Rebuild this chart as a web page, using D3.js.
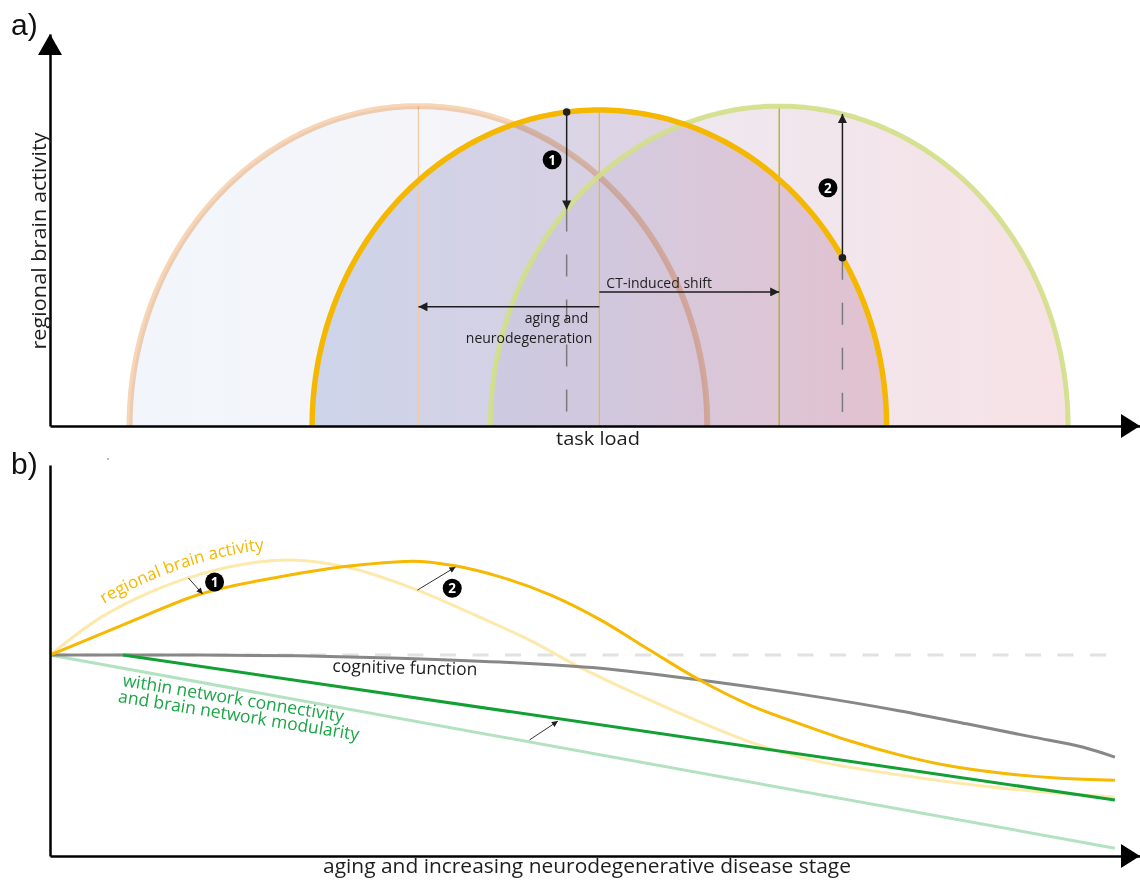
<!DOCTYPE html>
<html>
<head>
<meta charset="utf-8">
<script src="https://cdn.jsdelivr.net/npm/d3@7"></script>
<style>
  html, body { margin: 0; padding: 0; background: #fff; }
  svg { display: block; font-family: "Open Sans", "Noto Sans", sans-serif; }
</style>
</head>
<body>
<svg id="chart" width="1140" height="881"></svg>
<script>
// ---------------- data ----------------
// Panel a: activity as a function of task load (three semi-elliptic curves)
const loadCurves   = ["aging and neurodegeneration", "current state", "after cognitive training"];
const peakLoad     = [33.8, 50.4, 66.9];   // task load at which each curve peaks
const halfSpan     = [26.5, 26.35, 26.5];  // half width of each curve in task-load units
const peakActivity = [81.6, 80.6, 81.6];   // maximal regional activity
const probeLoad    = [47.4, 72.7];         // task loads of the markers 1 and 2
const shiftLevels  = [30.4, 34.2];         // activity level of the aging / CT shift arrows
const shiftLabels  = ["aging and", "neurodegeneration", "CT-induced shift"];

// Panel b: trajectories over disease stage (stage, value)
const activityNoCT = [[0,51.4],[4.6,60.9],[9.2,67.5],[13.8,72.1],[18.3,74.9],[22.0,75.7],
  [27.2,73.9],[33.7,68.0],[39.4,61.1],[44.0,55.2],[48.6,48.3],[55.0,39.9],[59.6,34.3],[64.2,29.2],
  [68.8,25.3],[78.0,20.7],[87.2,17.4],[94.8,15.6],[97.7,15.1]];
const activityCT = [[0,51.4],[7.3,59.8],[13.8,67.0],[21.1,71.4],[29.0,74.6],[33.3,75.4],
  [37.0,74.3],[41.3,71.4],[45.9,66.8],[50.5,60.4],[55.0,52.7],[59.6,45.0],[64.2,38.6],[68.8,33.8],
  [73.4,29.4],[78.0,25.8],[82.6,23.0],[87.2,21.2],[92.7,19.9],[97.7,19.4]];
const cognition = [[0,51.4],[13.8,51.4],[22.9,51.2],[32.1,50.6],[41.3,49.6],[50.5,48.0],
  [59.6,45.0],[68.8,41.4],[78.0,37.1],[84.1,33.8],[90.2,30.4],[94.8,27.8],[97.7,25.3]];
const connectivityNoCT = [[0,51.4],[97.7,2.0]];
const connectivityCT   = [[6.7,51.4],[97.7,14.3]];
const baselineLevel = 51.4;
const stageEnd = 97.7;
// small arrows (from -> to) showing the CT effect in panel b
const effectArrows = [[[12.7,71.1],[14.0,67.0]], [[33.7,68.0],[37.2,73.9]], [[44.0,29.7],[46.6,34.5]]];
const effectBadges = [["1",[15.1,70.1]], ["2",[36.9,68.5]]];

// ---------------- layout ----------------
const svg = d3.select("#chart");
const xA = d3.scaleLinear().domain([0, 100]).range([50, 1140]);
const yA = d3.scaleLinear().domain([0, 100]).range([426, 34]);
const xB = d3.scaleLinear().domain([0, 100]).range([50, 1140]);
const yB = d3.scaleLinear().domain([0, 100]).range([856, 465]);

const ink = "#1e1e1e";
const curveStroke = ["#f8d5b5", "#f5b800", "#d2df86"];
const curveFillOpacity = [0.15, 0.58, 0.3];
const curveWidth = [6, 5.5, 5];

const defs = svg.append("defs");
const grad = defs.append("linearGradient")
  .attr("id", "loadGrad").attr("gradientUnits", "userSpaceOnUse")
  .attr("x1", xA(peakLoad[0] - halfSpan[0])).attr("x2", xA(peakLoad[2] + halfSpan[2]))
  .attr("y1", 0).attr("y2", 0);
grad.append("stop").attr("offset", 0).attr("stop-color", "#a6c0e4");
grad.append("stop").attr("offset", 0.5).attr("stop-color", "#c2b6d3");
grad.append("stop").attr("offset", 1).attr("stop-color", "#e39fad");

function addMarker(id, w, h) {
  defs.append("marker").attr("id", id)
    .attr("viewBox", "0 0 10 10").attr("refX", 10).attr("refY", 5)
    .attr("markerWidth", w).attr("markerHeight", h)
    .attr("markerUnits", "userSpaceOnUse").attr("orient", "auto")
    .append("path").attr("d", "M0,0L10,5L0,10Z").attr("fill", ink);
}
addMarker("headA", 10, 9);
addMarker("headB", 8, 6);

// activity of curve i at a given task load
function activityAt(i, load) {
  const u = (load - peakLoad[i]) / halfSpan[i];
  return peakActivity[i] * Math.sqrt(Math.max(0, 1 - u * u));
}
function arcPoints(i) {
  return d3.range(0, 181).map(k => {
    const t = k * Math.PI / 180;
    return [peakLoad[i] - halfSpan[i] * Math.cos(t), peakActivity[i] * Math.sin(t)];
  });
}
const lineA = d3.line().x(d => xA(d[0])).y(d => yA(d[1]));

// ---------------- panel a ----------------
const gA = svg.append("g");

loadCurves.forEach((name, i) => {
  gA.append("path").attr("d", lineA(arcPoints(i)) + "Z")
    .attr("fill", "url(#loadGrad)").attr("fill-opacity", curveFillOpacity[i]);
});

// vertical lines through the peaks
const peakLineColour = ["#edcaa8", "#e5b55a", "#a7af27"];
loadCurves.forEach((name, i) => {
  gA.append("line")
    .attr("x1", xA(peakLoad[i])).attr("x2", xA(peakLoad[i]))
    .attr("y1", yA(peakActivity[i])).attr("y2", yA(0))
    .attr("stroke", peakLineColour[i]).attr("stroke-width", 1.3);
});

// curve outlines (gold drawn last)
gA.append("path").attr("d", lineA(arcPoints(0)))
  .attr("fill", "none").attr("stroke", curveStroke[0]).attr("stroke-width", curveWidth[0])
  .style("mix-blend-mode", "multiply");
gA.append("path").attr("d", lineA(arcPoints(2)))
  .attr("fill", "none").attr("stroke", curveStroke[2]).attr("stroke-width", curveWidth[2])
  .attr("stroke-opacity", 0.9);
gA.append("path").attr("d", lineA(arcPoints(1)))
  .attr("fill", "none").attr("stroke", curveStroke[1]).attr("stroke-width", curveWidth[1]);

// dashed drop lines below the markers
const dropStart = [activityAt(2, probeLoad[0]), activityAt(1, probeLoad[1])];
probeLoad.forEach((load, k) => {
  gA.append("line")
    .attr("x1", xA(load)).attr("x2", xA(load))
    .attr("y1", yA(dropStart[k])).attr("y2", yA(3.6))
    .attr("stroke", "#7a7a7a").attr("stroke-width", 1.5)
    .attr("stroke-dasharray", "22,23");
});

// marker arrows: 1 from gold to green (down), 2 from gold to green (up)
probeLoad.forEach((load, k) => {
  const from = activityAt(1, load), to = activityAt(2, load);
  gA.append("line")
    .attr("x1", xA(load)).attr("x2", xA(load))
    .attr("y1", yA(from)).attr("y2", yA(to))
    .attr("stroke", ink).attr("stroke-width", 1.5)
    .attr("marker-end", "url(#headA)");
  gA.append("circle").attr("cx", xA(load)).attr("cy", yA(from)).attr("r", 3.8).attr("fill", ink);
});

function badge(g, label, cx, cy) {
  g.append("circle").attr("cx", cx).attr("cy", cy).attr("r", 9.5).attr("fill", "#000");
  g.append("text").attr("x", cx).attr("y", cy + 4.8)
    .attr("text-anchor", "middle").attr("fill", "#fff")
    .attr("font-size", 13.5).attr("font-weight", 700).text(label);
}
badge(gA, "1", xA(probeLoad[0]) - 14.5, yA((activityAt(1, probeLoad[0]) + activityAt(2, probeLoad[0])) / 2) - 1);
badge(gA, "2", xA(probeLoad[1]) - 14.5, yA((activityAt(1, probeLoad[1]) + activityAt(2, probeLoad[1])) / 2) + 2);

// shift arrows
gA.append("line")
  .attr("x1", xA(peakLoad[1])).attr("x2", xA(peakLoad[0]))
  .attr("y1", yA(shiftLevels[0])).attr("y2", yA(shiftLevels[0]))
  .attr("stroke", ink).attr("stroke-width", 1.5).attr("marker-end", "url(#headA)");
gA.append("line")
  .attr("x1", xA(peakLoad[1])).attr("x2", xA(peakLoad[2]))
  .attr("y1", yA(shiftLevels[1])).attr("y2", yA(shiftLevels[1]))
  .attr("stroke", ink).attr("stroke-width", 1.5).attr("marker-end", "url(#headA)");

gA.append("text").attr("x", xA(peakLoad[1]) - 11).attr("y", yA(shiftLevels[0]) + 16)
  .attr("text-anchor", "end").attr("font-size", 14).attr("fill", ink).text(shiftLabels[0]);
gA.append("text").attr("x", xA(peakLoad[1]) - 7).attr("y", yA(shiftLevels[0]) + 36)
  .attr("text-anchor", "end").attr("font-size", 14).attr("fill", ink).text(shiftLabels[1]);
gA.append("text").attr("x", xA(peakLoad[1]) + 7).attr("y", yA(shiftLevels[1]) - 4)
  .attr("font-size", 14).attr("fill", ink).text(shiftLabels[2]);

// axes of panel a
function styleAxis(g) {
  g.select(".domain").attr("stroke", "#000").attr("stroke-width", 2.5);
}
gA.append("g").attr("transform", `translate(0,${yA(0)})`)
  .call(d3.axisBottom(xA).tickValues([]).tickSizeOuter(0)).call(styleAxis);
gA.append("g").attr("transform", `translate(${xA(0)},0)`)
  .call(d3.axisLeft(yA).tickValues([]).tickSizeOuter(0)).call(styleAxis);

const tipX = xA.range()[1], tipY = yA.range()[1];
gA.append("path").attr("d", `M${tipX},${yA(0)}L${tipX - 19},${yA(0) - 12}L${tipX - 19},${yA(0) + 12}Z`).attr("fill", "#000");
gA.append("path").attr("d", `M${xA(0)},${tipY}L${xA(0) - 12},${tipY + 21}L${xA(0) + 12},${tipY + 21}Z`).attr("fill", "#000");

gA.append("text").attr("x", 598).attr("y", yA(0) + 19)
  .attr("text-anchor", "middle").attr("font-size", 19)
  .attr("textLength", 84).attr("lengthAdjust", "spacingAndGlyphs")
  .attr("fill", ink).text("task load");
gA.append("text").attr("transform", `translate(${xA(0) - 4},241) rotate(-90)`)
  .attr("text-anchor", "middle").attr("font-size", 20)
  .attr("textLength", 217).attr("lengthAdjust", "spacingAndGlyphs")
  .attr("fill", ink).text("regional brain activity");

svg.append("text").attr("x", 11).attr("y", 35)
  .style("font-family", "'Liberation Sans', Arial, sans-serif")
  .attr("font-size", 30).attr("fill", "#111").text("a)");

// ---------------- panel b ----------------
const gB = svg.append("g");
const lineB = d3.line().x(d => xB(d[0])).y(d => yB(d[1])).curve(d3.curveMonotoneX);

gB.append("line")
  .attr("x1", xB(0)).attr("x2", xB(stageEnd))
  .attr("y1", yB(baselineLevel)).attr("y2", yB(baselineLevel))
  .attr("stroke", "#e1e1e1").attr("stroke-width", 3).attr("stroke-dasharray", "16,16.5");

const seriesB = [
  { data: connectivityNoCT, colour: "#b3e2c1" },
  { data: activityNoCT,     colour: "#fde9ab" },
  { data: cognition,        colour: "#878787" },
  { data: connectivityCT,   colour: "#12a035" },
  { data: activityCT,       colour: "#f6b800" }
];
seriesB.forEach(s => {
  gB.append("path").attr("d", lineB(s.data))
    .attr("fill", "none").attr("stroke", s.colour).attr("stroke-width", 3)
    .attr("stroke-linecap", "butt");
});

effectArrows.forEach(([a, b]) => {
  gB.append("line")
    .attr("x1", xB(a[0])).attr("y1", yB(a[1]))
    .attr("x2", xB(b[0])).attr("y2", yB(b[1]))
    .attr("stroke", "#333").attr("stroke-width", 1).attr("marker-end", "url(#headB)");
});
effectBadges.forEach(([label, p]) => badge(gB, label, xB(p[0]), yB(p[1])));

// curve label following the untreated activity curve
const labelPath = defs.append("path").attr("id", "activityLabelPath")
  .attr("d", lineB(activityNoCT.map(d => [d[0], d[1] + 2.9])));
let startLen = 0;
{
  const node = labelPath.node();
  const total = node.getTotalLength();
  for (let l = 0; l < total; l += 0.5) {
    if (node.getPointAtLength(l).x >= 104) { startLen = l; break; }
  }
}
gB.append("text").attr("font-size", 17).attr("fill", "#f6b800")
  .append("textPath").attr("href", "#activityLabelPath").attr("startOffset", startLen)
  .text("regional brain activity");

gB.append("text")
  .attr("transform", `translate(${xB(25.9)},${yB(47.1)}) rotate(1.4)`)
  .attr("font-size", 17.5).attr("fill", ink).text("cognitive function");

gB.append("text")
  .attr("transform", `translate(${xB(6.6)},${yB(43.5)}) rotate(9.3)`)
  .attr("font-size", 17.5).attr("fill", "#1aa546").text("within network connectivity");
gB.append("text")
  .attr("transform", `translate(${xB(6.2)},${yB(39.4)}) rotate(9.1)`)
  .attr("font-size", 17.5).attr("fill", "#1aa546").text("and brain network modularity");

// axes of panel b
gB.append("g").attr("transform", `translate(0,${yB(0)})`)
  .call(d3.axisBottom(xB).tickValues([]).tickSizeOuter(0)).call(styleAxis);
gB.append("g").attr("transform", `translate(${xB(0)},0)`)
  .call(d3.axisLeft(yB).tickValues([]).tickSizeOuter(0)).call(styleAxis);
const tipXB = xB.range()[1];
gB.append("path").attr("d", `M${tipXB},${yB(0)}L${tipXB - 19},${yB(0) - 12}L${tipXB - 19},${yB(0) + 12}Z`).attr("fill", "#000");

gB.append("text").attr("x", 323).attr("y", yB(0) + 17)
  .attr("font-size", 20).attr("textLength", 528).attr("lengthAdjust", "spacingAndGlyphs")
  .attr("fill", ink)
  .text("aging and increasing neurodegenerative disease stage");

gB.append("circle").attr("cx", 108).attr("cy", 459).attr("r", 0.8).attr("fill", "#666");

svg.append("text").attr("x", 11).attr("y", 474)
  .style("font-family", "'Liberation Sans', Arial, sans-serif")
  .attr("font-size", 30).attr("fill", "#111").text("b)");
</script>
</body>
</html>
